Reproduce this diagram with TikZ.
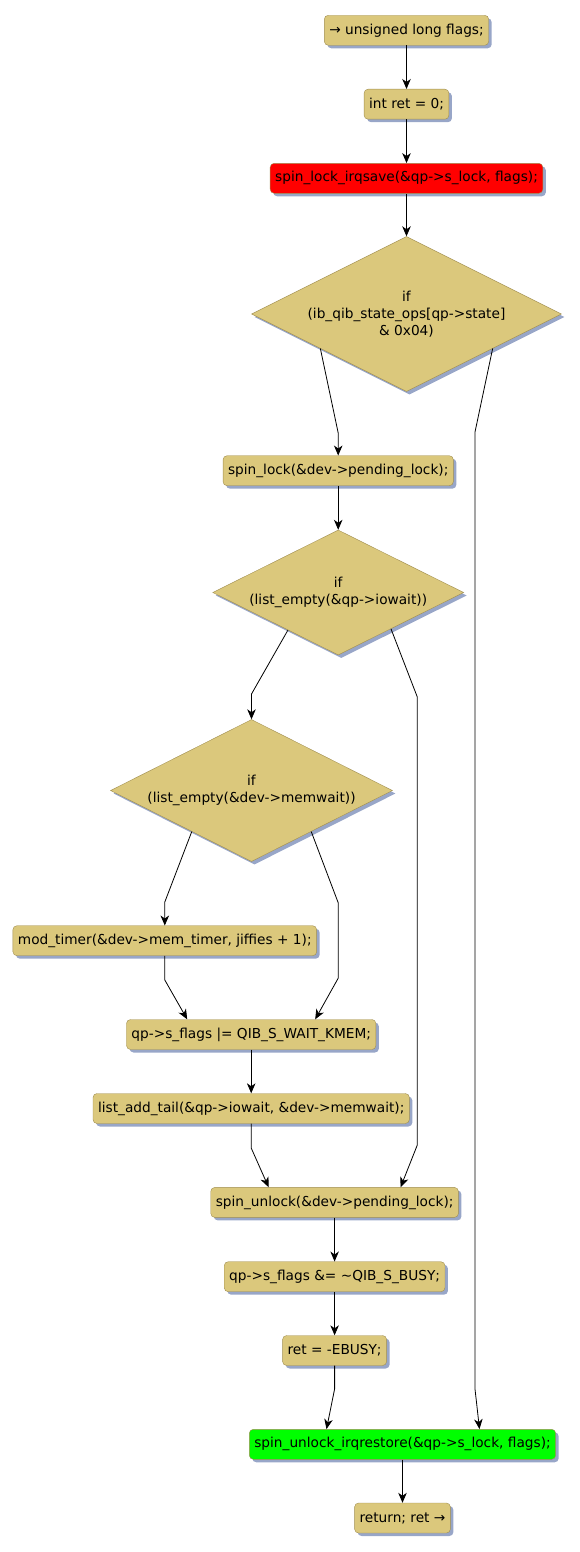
\documentclass[tikz,border=0pt]{standalone}
\usepackage{fontspec}
\setmainfont{DejaVu Sans}
\usetikzlibrary{shapes.geometric, arrows.meta, calc, shadows}
\definecolor{actfill}{RGB}{219,200,124}
\definecolor{actline}{RGB}{160,142,80}
\definecolor{actshadow}{RGB}{152,166,200}

\tikzset{
    act/.style={draw=actline, fill=actfill, rounded corners=4pt, minimum height=30pt,
        inner xsep=5pt, inner ysep=0pt, font=\fontsize{13.7}{17}\selectfont,
        drop shadow={shadow xshift=3pt, shadow yshift=-3pt, fill=actshadow, opacity=1}},
    cond/.style={diamond, draw=actline, fill=actfill, inner sep=0pt, aspect=2, align=center,
        font=\fontsize{13.7}{17}\selectfont,
        drop shadow={shadow xshift=3pt, shadow yshift=-3pt, fill=actshadow, opacity=1}},
    flow/.style={-{Stealth[length=10pt, width=8.5pt, inset=3pt]}, line width=0.8pt}
}

\begin{document}
\begin{tikzpicture}[x=1pt, y=-1pt]
    \useasboundingbox (0,0) rectangle (580,1552);

    \node[act] (decl) at (406.5,30.3) {→ unsigned long flags;};
    \node[act] (ret0) at (406.5,104.2) {int ret = 0;};
    \node[act, fill=red] (lock) at (406.5,178.3) {spin\_lock\_irqsave(\&qp->s\_lock, flags);};
    \node[cond, minimum width=310pt, minimum height=155pt] (stateif) at (406.5,314)
        {if\\(ib\_qib\_state\_ops[qp->state]\\\& 0x04)};
    \node[act] (plock) at (338.2,470.7) {spin\_lock(\&dev->pending\_lock);};
    \node[cond, minimum width=251pt, minimum height=125pt] (iowaitif) at (338.2,592.5)
        {if\\(list\_empty(\&qp->iowait))};
    \node[cond, minimum width=282pt, minimum height=142pt] (memwaitif) at (251.5,790.5)
        {if\\(list\_empty(\&dev->memwait))};
    \node[act] (timer) at (164.8,940.7) {mod\_timer(\&dev->mem\_timer, jiffies + 1);};
    \node[act] (kmem) at (251.2,1034.5) {qp->s\_flags |= QIB\_S\_WAIT\_KMEM;};
    \node[act] (tail) at (251.2,1108.5) {list\_add\_tail(\&qp->iowait, \&dev->memwait);};
    \node[act] (punlock) at (334.6,1202.4) {spin\_unlock(\&dev->pending\_lock);};
    \node[act] (busy) at (334.6,1276.7) {qp->s\_flags \&= \textasciitilde QIB\_S\_BUSY;};
    \node[act] (ebusy) at (334.6,1350.5) {ret = -EBUSY;};
    \node[act, fill=green] (unlock) at (402.5,1444.3) {spin\_unlock\_irqrestore(\&qp->s\_lock, flags);};
    \node[act] (retn) at (402.5,1518) {return; ret →};

    \draw[flow] (decl) -- (ret0);
    \draw[flow] (ret0) -- (lock);
    \draw[flow] (lock) -- (stateif);
    \draw[flow] ($(stateif.west)!0.445!(stateif.south)$) -- (338.2,433) -- (plock.north);
    \draw[flow] ($(stateif.east)!0.445!(stateif.south)$) -- (475,432) -- (475,1389) -- ([xshift=77pt]unlock.north);
    \draw[flow] (plock) -- (iowaitif);
    \draw[flow] ($(iowaitif.west)!0.6!(iowaitif.south)$) -- (251.5,694) -- (memwaitif.north);
    \draw[flow] ($(iowaitif.east)!0.58!(iowaitif.south)$) -- (417.3,697) -- (417.3,1145) -- ([xshift=66pt]punlock.north);
    \draw[flow] ($(memwaitif.west)!0.577!(memwaitif.south)$) -- (164.8,902) -- (timer.north);
    \draw[flow] ($(memwaitif.east)!0.577!(memwaitif.south)$) -- (338.3,903) -- (338.3,978) -- ([xshift=64pt]kmem.north);
    \draw[flow] (timer.south) -- (164.8,980) -- ([xshift=-64pt]kmem.north);
    \draw[flow] (kmem) -- (tail);
    \draw[flow] (tail.south) -- (251.2,1148) -- ([xshift=-66pt]punlock.north);
    \draw[flow] (punlock) -- (busy);
    \draw[flow] (busy) -- (ebusy);
    \draw[flow] (ebusy.south) -- (334.6,1389) -- ([xshift=-76pt]unlock.north);
    \draw[flow] (unlock) -- (retn);
\end{tikzpicture}
\end{document}
